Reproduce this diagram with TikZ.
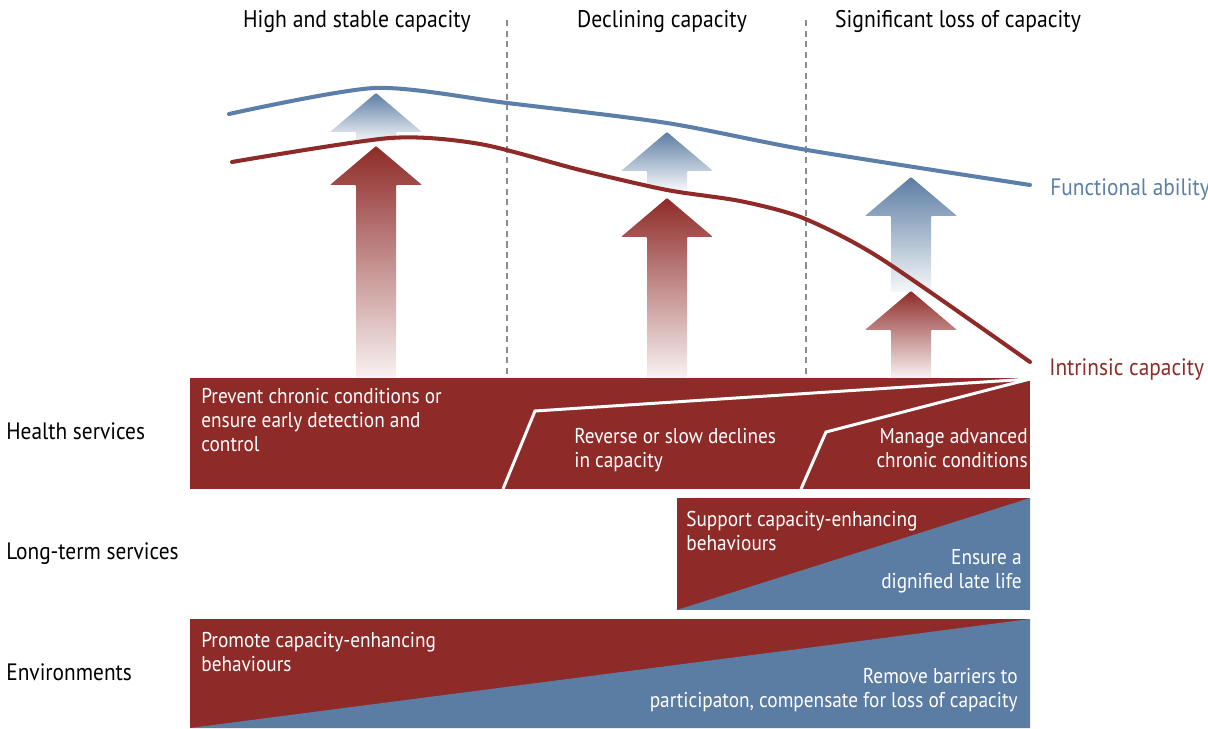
\documentclass[tikz,border=0pt]{standalone}
\usepackage{fontspec}
\setmainfont{PT Sans}[FakeStretch=0.9]
\usetikzlibrary{calc}

\definecolor{capred}{RGB}{142,43,40}
\definecolor{capblue}{RGB}{92,125,163}
\definecolor{lineblue}{RGB}{91,127,168}
\definecolor{dashgray}{RGB}{140,140,140}

% x, tip y, bottom y, colour
\newcommand{\upArrow}[4]{%
  \shade[top color=#4, bottom color=#4!6, rounded corners=0.5pt]
    (#1,#2) -- ++(46,39) -- ++(-26,0) -- ++(0,#3-#2-39) -- ++(-40,0)
    -- ++(0,-#3+#2+39) -- ++(-26,0) -- cycle;
}

\begin{document}
\begin{tikzpicture}[x=0.02cm,y=-0.02cm,
  txt/.style={font=\fontsize{12.2}{13.66}\selectfont, inner sep=0},
  bigtxt/.style={font=\fontsize{13.5}{15}\selectfont, inner sep=0},
  boxtext/.style={txt, text=white, align=left, anchor=north west},
  boxtextR/.style={txt, text=white, align=right, anchor=north east},
  rowlabel/.style={bigtxt, anchor=base west},
  heading/.style={font=\fontsize{13.7}{15}\selectfont, inner sep=0, anchor=base},
  curve/.style={line width=2.3pt, line cap=round},
  sep/.style={dashgray, line width=1.1pt, dash pattern=on 3.5pt off 2.5pt}]

  \useasboundingbox (0,0) rectangle (1208,729);
  \pgfmathsetmacro{\boxR}{1030}

  \node[heading] (h1) at (357,28) {High and stable capacity};
  \node[heading] (h2) at (662,28) {Declining capacity};
  \node[heading] (h3) at (958,28) {Significant loss of capacity};

  \draw[sep] (507,20) -- (507,378);
  \draw[sep] (806,20) -- (806,378);

  \upArrow{376}{93}{142}{capblue}
  \upArrow{376}{146}{378}{capred}
  \upArrow{667}{132}{190}{capblue}
  \upArrow{667}{198}{378}{capred}
  \upArrow{911}{177}{292}{capblue}
  \upArrow{911}{291}{378}{capred}

  \draw[curve, lineblue] plot[smooth, tension=0.45] coordinates
    {(229,114) (375,88) (507,103) (667,123) (807,150) (\boxR,185)};
  \draw[curve, capred] plot[smooth, tension=0.45] coordinates
    {(232,162) (390,138) (480,144) (580,170) (667,190) (740,201) (803,218) (880,258) (\boxR,362)};

  \node[bigtxt, text=lineblue, anchor=base west] (fa) at (1050,196) {Functional ability};
  \node[bigtxt, text=capred, anchor=base west] (ic) at (1049,376) {Intrinsic capacity};

  % health services
  \fill[capred] (190,378) rectangle (\boxR,489);
  \draw[white, line width=1.7pt] (503,489) -- (535,411) -- (\boxR,379);
  \draw[white, line width=1.7pt] (801,489) -- (826,432) -- (\boxR,379);
  \node[boxtext] (prev) at (201,388) {Prevent chronic conditions or\\ensure early detection and\\control};
  \node[boxtext] (rev) at (574,428) {Reverse or slow declines\\in capacity};
  \node[boxtextR] (man) at (1028,428) {Manage advanced\\chronic conditions};

  % long-term services
  \fill[capred] (677,498) rectangle (\boxR,610);
  \fill[capblue] (677,610) -- (\boxR,498) -- (\boxR,610) -- cycle;
  \node[boxtext] (sup) at (686,511) {Support capacity-enhancing\\behaviours};
  \node[boxtextR] (ens) at (1022,549) {Ensure a\\dignified late life};

  % environments
  \fill[capred] (190,619) rectangle (\boxR,728);
  \fill[capblue] (190,728) -- (\boxR,619) -- (\boxR,728) -- cycle;
  \node[boxtext] (prom) at (201,632) {Promote capacity-enhancing\\behaviours};
  \node[boxtextR] (rem) at (1018,668) {Remove barriers to\\participaton, compensate for loss of capacity};

  \node[rowlabel] (hs) at (6,440) {Health services};
  \node[rowlabel] (lt) at (6,560) {Long-term services};
  \node[rowlabel] (env) at (6,681) {Environments};

\end{tikzpicture}
\end{document}
